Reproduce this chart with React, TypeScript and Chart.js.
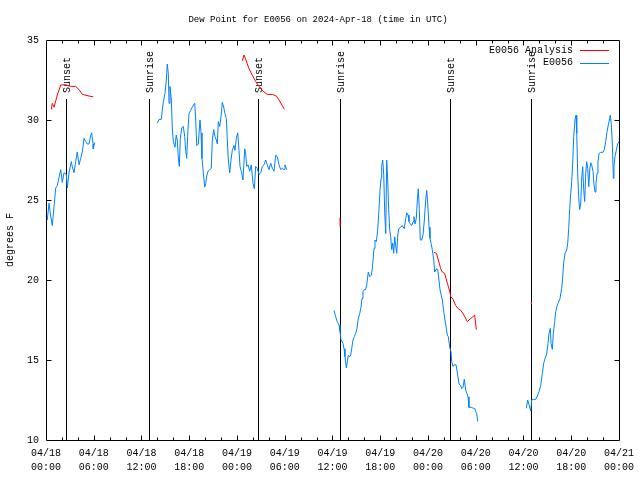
import React, { useEffect, useRef } from "react";
import { Chart, registerables } from "chart.js";

Chart.register(...registerables);

const TITLE = "Dew Point for E0056 on 2024-Apr-18 (time in UTC)";
const Y_TITLE = "degrees F";
const SERIES_NAMES = ["E0056 Analysis", "E0056"];

// x values are hours after 04/18 00:00 UTC
const tickDates = ["04/18", "04/18", "04/18", "04/18", "04/19", "04/19", "04/19", "04/19", "04/20", "04/20", "04/20", "04/20", "04/21"];
const tickTimes = ["00:00", "06:00", "12:00", "18:00", "00:00", "06:00", "12:00", "18:00", "00:00", "06:00", "12:00", "18:00", "00:00"];

const sunHours = [2.51, 12.98, 26.64, 36.98, 50.8, 60.98];
const sunLabels = ["Sunset", "Sunrise", "Sunset", "Sunrise", "Sunset", "Sunrise"];

// Observed dew point (null = gap)
const obsHours = [
  0.16, 0.38, 0.59, 0.79, 1.01, 1.22, 1.42, 1.63, 1.85, 2.05, 2.26, 2.55, 2.68, 2.89, 3.18, 3.3, 3.52, 3.73, 3.93, 4.15, 4.36, 4.56, 4.78, 4.99, 5.19, 5.4, 5.62, 5.74, 5.91, 5.94, 6.12,
  10,
  13.99, 14.2, 14.49, 14.61, 14.74, 14.95, 15.12, 15.24, 15.37, 15.46, 15.58, 15.75, 15.87, 16.0, 16.21, 16.37, 16.5, 16.62, 16.75, 16.88, 17.05, 17.25, 17.43, 17.55, 17.68, 17.84, 17.97, 18.18, 18.38, 18.69, 18.81, 18.94, 19.14, 19.35, 19.48, 19.6, 19.77, 19.94, 20.07, 20.19, 20.36, 20.57, 20.77, 20.9, 21.07, 21.24, 21.4, 21.53, 21.65, 21.83, 21.99, 22.15, 22.33, 22.49, 22.66, 22.78, 22.91, 23.08, 23.25, 23.41, 23.62, 23.75, 23.91, 24.09, 24.25, 24.38, 24.54, 24.75, 24.97, 25.09, 25.22, 25.38, 25.6, 25.8, 26.01, 26.18, 26.35, 26.55, 26.77, 26.98, 27.18, 27.39, 27.61, 27.81, 28.02, 28.24, 28.44, 28.65, 28.86, 29.07, 29.28, 29.49, 29.69, 29.91, 30.03, 30.25,
  33,
  36.19, 36.4, 36.6, 36.82, 36.94, 37.07, 37.32, 37.45, 37.57, 37.74, 37.86, 37.99, 38.16, 38.29, 38.41, 38.58, 38.74, 38.92, 39.08, 39.24, 39.42, 39.58, 39.71, 39.83, 40.0, 40.17, 40.3, 40.5, 40.68, 40.88, 41.0, 41.22, 41.34, 41.51, 41.68, 41.84, 41.97, 42.1, 42.18, 42.31, 42.44, 42.56, 42.69, 42.81, 42.94, 43.06, 43.19, 43.31, 43.44, 43.57, 43.69, 43.82, 43.94, 44.07, 44.2, 44.32, 44.57, 44.77, 45.02, 45.2, 45.33, 45.49, 45.61, 45.78, 45.95, 46.12, 46.24, 46.37, 46.53, 46.66, 46.78, 46.91, 47.03, 47.21, 47.37, 47.54, 47.71, 47.84, 47.96, 48.13, 48.25, 48.38, 48.54, 48.72, 48.84, 49.01, 49.22, 49.38, 49.51, 49.8, 50.01, 50.23, 50.43, 50.55, 50.73, 50.89, 50.98, 51.14, 51.31, 51.52, 51.73, 51.9, 52.11, 52.24, 52.4, 52.56, 52.74, 52.9, 53.03, 53.15, 53.49, 53.69, 53.87, 54.0, 54.12, 54.25,
  57,
  60.36, 60.53, 60.69, 60.91, 61.03, 61.23, 61.54, 61.74, 61.95, 62.16, 62.37, 62.54, 62.7, 62.92, 63.08, 63.21, 63.37, 63.46, 63.62, 63.75, 63.92, 64.05, 64.21, 64.38, 64.59, 64.8, 64.93, 65.05, 65.22, 65.43, 65.56, 65.68, 65.81, 65.93, 66.06, 66.18, 66.31, 66.47, 66.6, 66.69, 66.81, 66.94, 67.06, 67.19, 67.32, 67.44, 67.57, 67.69, 67.82, 67.94, 68.07, 68.2, 68.32, 68.45, 68.57, 68.74, 68.86, 68.99, 69.11, 69.24, 69.36, 69.49, 69.7, 69.99, 70.16, 70.33, 70.5, 70.66, 70.79, 70.91, 71.04, 71.16, 71.29, 71.37, 71.49, 71.66, 71.83, 72.0,
];
const obsValues = [
  23.75, 24.8, 24.0, 23.4, 24.6, 25.75, 25.9, 26.4, 26.9, 26.1, 26.7, 26.6, 25.75, 26.7, 27.4, 27.1, 26.7, 27.4, 28.0, 27.2, 27.6, 28.0, 28.85, 28.65, 28.5, 28.5, 29.05, 29.2, 28.5, 28.2, 28.6,
  null,
  29.8, 30.04, 30.04, 30.6, 31.1, 31.67, 32.5, 33.5, 32.9, 31.04, 32.1, 31.25, 29.5, 28.65, 28.3, 29.06, 28.75, 27.7, 27.1, 28.85, 29.5, 29.6, 28.96, 28.1, 27.6, 29.4, 30.4, 30.6, 30.8, 31.04, 30.0, 28.4, 28.5, 30.0, 29.2, 27.6, 26.7, 25.8, 26.04, 26.5, 26.8, 26.9, 26.98, 28.75, 29.4, 28.96, 28.75, 28.5, 29.9, 29.6, 30.2, 31.1, 30.8, 30.4, 30.1, 28.75, 27.5, 26.7, 27.5, 28.1, 28.4, 28.1, 28.85, 29.2, 28.1, 27.1, 26.8, 26.25, 28.2, 27.9, 27.1, 27.2, 26.8, 27.2, 26.04, 25.7, 27.1, 26.98, 26.6, 26.7, 27.1, 27.2, 27.5, 27.2, 26.9, 27.3, 26.98, 26.8, 27.8, 27.7, 27.2, 26.9, 26.98, 26.9, 27.2, 26.9,
  null,
  18.1, 17.7, 17.4, 17.2, 16.8, 16.25, 16.04, 15.7, 15.2, 14.5, 14.9, 15.3, 15.2, 15.3, 15.7, 16.25, 16.46, 16.67, 16.98, 17.6, 17.9, 18.3, 18.85, 19.27, 19.4, 19.4, 19.7, 20.5, 20.2, 20.3, 20.7, 21.98, 22.5, 22.4, 23.1, 24.4, 25.6, 26.35, 27.1, 27.5, 26.56, 24.2, 22.9, 27.5, 26.25, 24.4, 23.1, 22.7, 21.9, 22.3, 21.67, 22.7, 22.1, 21.67, 22.8, 23.2, 23.3, 23.4, 23.2, 23.85, 24.2, 24.06, 23.65, 23.5, 23.4, 23.65, 23.96, 23.5, 23.85, 25.0, 25.7, 24.4, 22.5, 22.5, 22.8, 23.75, 25.0, 25.6, 24.8, 23.3, 22.6, 22.3, 21.9, 21.25, 20.5, 20.67, 20.67, 20.0, 19.4, 18.75, 17.9, 17.2, 16.56, 16.46, 15.8, 15.5, 14.9, 14.6, 14.7, 14.7, 14.06, 13.5, 13.4, 13.2, 13.3, 13.8, 13.1, 12.9, 12.7, 12.04, 12.04, 11.98, 11.98, 11.77, 11.67, 11.15,
  null,
  11.98, 12.5, 12.2, 11.83, 12.5, 12.54, 12.54, 12.75, 13.02, 13.4, 14.17, 14.8, 15.1, 15.375, 16.04, 16.67, 16.98, 16.04, 15.67, 16.67, 17.4, 18.02, 18.375, 18.58, 18.85, 19.48, 20.2, 21.08, 21.67, 21.875, 22.3, 23.23, 24.48, 25.4, 26.15, 27.3, 28.96, 30.0, 30.3, 29.17, 26.67, 25.1, 24.4, 24.8, 26.46, 27.08, 25.6, 24.9, 26.67, 27.4, 26.98, 25.83, 26.875, 27.33, 27.2, 26.77, 25.94, 25.5, 26.04, 26.67, 27.4, 27.9, 27.98, 27.98, 28.17, 28.65, 29.27, 29.7, 30.0, 30.3, 29.7, 28.5, 26.35, 27.1, 27.7, 28.1, 28.5, 28.65,
];

// Analysis dew point (null = gap)
const anaHours = [
  0.67, 0.79, 1.01, 1.42, 1.85, 2.48, 3.1, 3.73, 4.15, 4.56, 5.4, 5.94,
  15,
  24.67, 24.88, 25.09, 25.51, 25.92, 26.35, 26.77, 27.27, 27.81, 28.44, 28.94, 29.28, 29.69, 29.95,
  33,
  36.94, 36.96,
  42,
  48.76, 49.05, 49.3, 49.6, 49.8, 50.1, 50.43, 50.73, 50.86, 51.14, 51.48, 51.81, 52.11, 52.53, 52.94, 53.37, 53.87, 54.07,
  57,
  60.98, 61.0,
];
const anaValues = [
  30.67, 31.04, 30.8, 31.56, 32.19, 32.2, 32.1, 32.1, 31.9, 31.6, 31.5, 31.45,
  null,
  33.7, 34.06, 33.8, 33.2, 32.8, 32.4, 32.1, 31.8, 31.6, 31.6, 31.5, 31.25, 30.9, 30.67,
  null,
  23.9, 23.3,
  null,
  21.73, 21.67, 21.25, 20.7, 20.5, 20.4, 19.8, 19.3, 18.96, 18.8, 18.4, 18.2, 18.1, 17.8, 17.4, 17.6, 17.8, 16.9,
  null,
  18.6, 18.5,
];

const RED = "#ff0000";
const BLUE = "#0080ff";
const FAMILY = '"Liberation Mono", "DejaVu Sans Mono", monospace';

const framePlugin = {
  id: "gnuFrame",
  beforeDatasetsDraw(chart: any) {
    const { ctx, chartArea: a, scales } = chart;
    const x = scales.x;
    ctx.save();
    ctx.strokeStyle = "#000";
    ctx.fillStyle = "#000";
    ctx.lineWidth = 1;
    ctx.font = `10px ${FAMILY}`;
    sunHours.forEach((h, i) => {
      const px = Math.round(x.getPixelForValue(h)) + 0.5;
      ctx.beginPath();
      ctx.moveTo(px, a.top + 59);
      ctx.lineTo(px, a.bottom);
      ctx.stroke();
      ctx.save();
      ctx.translate(px + 1, a.top + 53);
      ctx.rotate(-Math.PI / 2);
      ctx.textAlign = "left";
      ctx.textBaseline = "middle";
      ctx.fillText(sunLabels[i], 0, 0);
      ctx.restore();
    });
    ctx.restore();
  },
  afterDatasetsDraw(chart: any) {
    const { ctx, chartArea: a, scales } = chart;
    const x = scales.x;
    const y = scales.y;
    ctx.save();
    ctx.strokeStyle = "#000";
    ctx.lineWidth = 1;
    const L = Math.round(a.left) + 0.5;
    const R = Math.round(a.right) + 0.5;
    const T = Math.round(a.top) + 0.5;
    const B = Math.round(a.bottom) + 0.5;
    ctx.beginPath();
    ctx.rect(L, T, R - L, B - T);
    ctx.stroke();
    ctx.beginPath();
    for (let h = 2; h < 72; h += 2) {
      const len = h % 6 === 0 ? 5 : 3;
      const px = Math.round(x.getPixelForValue(h)) + 0.5;
      ctx.moveTo(px, B);
      ctx.lineTo(px, B - len);
      ctx.moveTo(px, T);
      ctx.lineTo(px, T + len);
    }
    for (let v = 15; v < 35; v += 5) {
      const py = Math.round(y.getPixelForValue(v)) + 0.5;
      ctx.moveTo(L, py);
      ctx.lineTo(L + 5, py);
      ctx.moveTo(R, py);
      ctx.lineTo(R - 5, py);
    }
    ctx.stroke();
    // legend
    ctx.font = `10px ${FAMILY}`;
    ctx.fillStyle = "#000";
    ctx.textAlign = "right";
    ctx.textBaseline = "middle";
    const colors = [RED, BLUE];
    SERIES_NAMES.forEach((name, i) => {
      const ly = a.top + 10 + i * 12.5;
      ctx.fillText(name, a.right - 46, ly);
      ctx.strokeStyle = colors[i];
      ctx.beginPath();
      ctx.moveTo(a.right - 39, Math.round(ly) + 0.5);
      ctx.lineTo(a.right - 10, Math.round(ly) + 0.5);
      ctx.stroke();
    });
    // title
    ctx.font = `9px ${FAMILY}`;
    ctx.textAlign = "center";
    ctx.fillText(TITLE, chart.width / 2 - 2, a.top - 20);
    ctx.restore();
  },
};

export default function App() {
  const ref = useRef<HTMLCanvasElement>(null);
  useEffect(() => {
    if (!ref.current) return;
    const obs = obsHours.map((h, i) => ({ x: h, y: obsValues[i] }));
    const ana = anaHours.map((h, i) => ({ x: h, y: anaValues[i] }));
    const chart = new Chart(ref.current, {
      type: "line",
      data: {
        datasets: [
          { label: SERIES_NAMES[1], data: obs as any, borderColor: BLUE, borderWidth: 1, pointRadius: 0, tension: 0, spanGaps: false },
          { label: SERIES_NAMES[0], data: ana as any, borderColor: RED, borderWidth: 1, pointRadius: 0, tension: 0, spanGaps: false },
        ],
      },
      options: {
        responsive: false,
        animation: false,
        layout: { padding: { left: 0, right: 20, top: 40, bottom: 0 } },
        plugins: {
          legend: { display: false },
          tooltip: { enabled: false },
          title: { display: false },
        },
        scales: {
          x: {
            type: "linear",
            min: 0,
            max: 72,
            afterFit: (s: any) => { s.height = 40; },
            grid: { display: false, drawTicks: false },
            border: { display: false },
            ticks: {
              stepSize: 6,
              autoSkip: false,
              maxRotation: 0,
              minRotation: 0,
              padding: 6,
              color: "#000",
              font: { family: FAMILY, size: 10, lineHeight: 1.4 },
              callback: (v: any) => {
                const i = Math.round(Number(v) / 6);
                return [tickDates[i], tickTimes[i]];
              },
            },
          },
          y: {
            min: 10,
            max: 35,
            afterFit: (s: any) => { s.width = 46; },
            grid: { display: false, drawTicks: false },
            border: { display: false },
            ticks: {
              stepSize: 5,
              padding: 7,
              color: "#000",
              font: { family: FAMILY, size: 10 },
            },
            title: {
              display: true,
              text: Y_TITLE,
              color: "#000",
              font: { family: FAMILY, size: 10, lineHeight: 1.2 },
              padding: { top: 4, bottom: 0 },
            },
          },
        },
      },
      plugins: [framePlugin],
    } as any);
    return () => chart.destroy();
  }, []);
  return (
    <div style={{ position: "fixed", left: 0, top: 0, width: 640, height: 480, background: "#fff" }}>
      <canvas ref={ref} width={640} height={480} style={{ display: "block" }} />
    </div>
  );
}
